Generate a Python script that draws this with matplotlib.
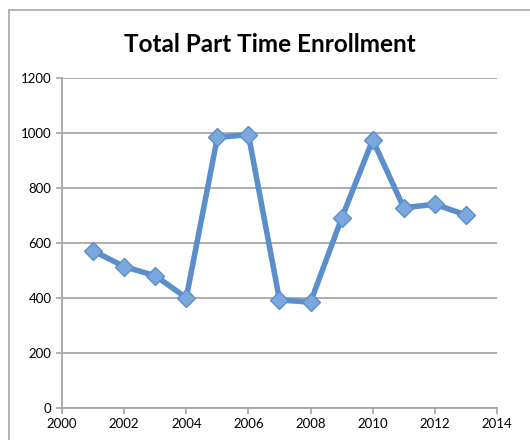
import matplotlib
matplotlib.use("Agg")
import matplotlib.pyplot as plt
from matplotlib.patches import Rectangle

years = [2001, 2002, 2003, 2004, 2005, 2006, 2007, 2008, 2009, 2010, 2011, 2012, 2013]
enrollment = [572, 514, 481, 401, 984, 994, 393, 385, 690, 975, 728, 741, 702]
x_ticks = [2000, 2002, 2004, 2006, 2008, 2010, 2012, 2014]
y_ticks = [0, 200, 400, 600, 800, 1000, 1200]
title = "Total Part Time Enrollment"

W, H = 530, 440
fig = plt.figure(figsize=(W / 100, H / 100), dpi=100)
fig.patch.set_facecolor("white")

# outer chart frame (left and top edges visible)
fig.add_artist(Rectangle((8.5 / W, -0.1), 1.2, 1 - 10.5 / H + 0.1, transform=fig.transFigure,
                         fill=False, edgecolor="#a6a6a6", linewidth=1.2))

ax = fig.add_axes([62 / W, 1 - 408 / H, (497 - 62) / W, (408 - 78) / H])
grid_c = "#a6a6a6"
ax.set_xlim(2000, 2014)
ax.set_ylim(0, 1200)
ax.set_xticks(x_ticks)
ax.set_yticks(y_ticks)
ax.yaxis.grid(True, color=grid_c, linewidth=1.3)
ax.set_axisbelow(True)
for s in ["top", "right"]:
    ax.spines[s].set_visible(False)
for s in ["left", "bottom"]:
    ax.spines[s].set_color(grid_c)
    ax.spines[s].set_linewidth(1.3)
ax.tick_params(axis="both", colors=grid_c, labelcolor="black", labelsize=9.5, length=4, width=1.2)
for lab in ax.get_xticklabels() + ax.get_yticklabels():
    lab.set_fontfamily("Lato")

ax.plot(years, enrollment, color="#5a8fcc", linewidth=4.0, marker="D", markersize=9.5,
        markerfacecolor="#7aa7dc", markeredgecolor="#5a8fcc", markeredgewidth=1.0,
        solid_joinstyle="round", zorder=3)

fig.text(270 / W, 1 - 45 / H, title, ha="center", va="center", fontsize=17.5,
         fontweight="bold", family="Lato")

fig.savefig("out.png", dpi=100)
